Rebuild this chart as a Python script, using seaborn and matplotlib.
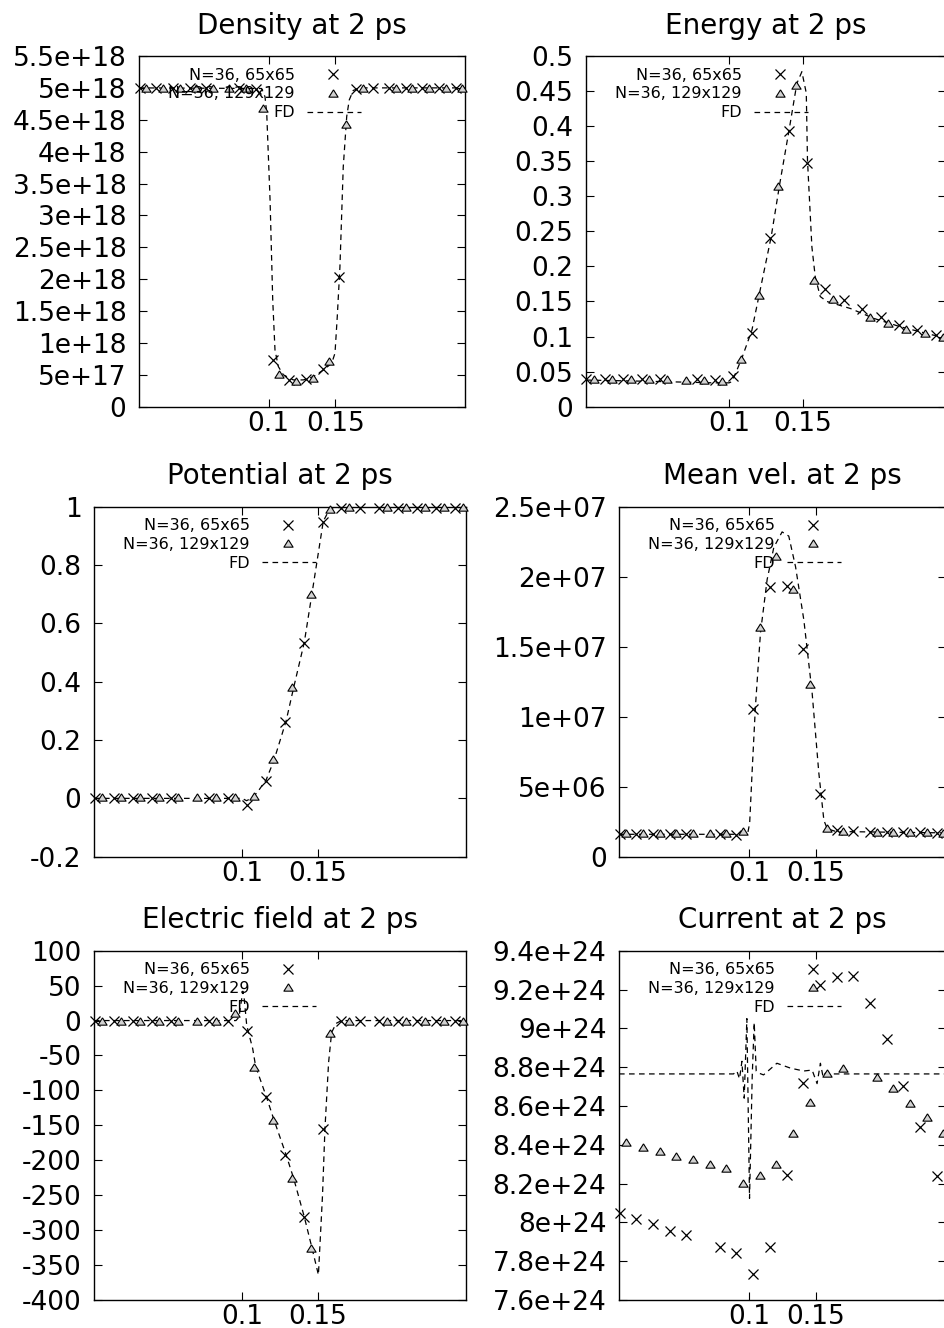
import matplotlib
matplotlib.use("Agg")
import matplotlib.pyplot as plt
import seaborn as sns

# ---------------------------------------------------------------------------
# Sample positions (um) of the two particle meshes
# ---------------------------------------------------------------------------
x_65 = [0.0030, 0.0155, 0.0280, 0.0405, 0.0530, 0.0780, 0.0905, 0.1030,
        0.1155, 0.1280, 0.1405, 0.1530, 0.1655, 0.1780, 0.1905, 0.2030,
        0.2155, 0.2280, 0.2405]
x_129 = [0.0080, 0.0205, 0.0330, 0.0455, 0.0580, 0.0705, 0.0830, 0.0955,
         0.1080, 0.1205, 0.1330, 0.1455, 0.1580, 0.1705, 0.1955, 0.2080,
         0.2205, 0.2330, 0.2455]

# ---------------------------------------------------------------------------
# Density
# ---------------------------------------------------------------------------
density_65 = [5.0e18, 5.0e18, 5.0e18, 5.0e18, 5.0e18, 5.0e18, 4.99e18, 7.4e17,
              4.2e17, 4.3e17, 5.9e17, 2.03e18, 4.99e18, 5.0e18, 5.0e18, 5.0e18,
              5.0e18, 5.0e18, 5.0e18]
density_129 = [5.0e18, 5.0e18, 5.0e18, 5.0e18, 5.0e18, 5.0e18, 5.0e18, 4.68e18,
               5.2e17, 4.1e17, 4.5e17, 7.2e17, 4.44e18, 5.0e18, 5.0e18, 5.0e18,
               5.0e18, 5.0e18, 5.0e18]
density_fd_x = [0.0025, 0.0947, 0.0972, 0.0985, 0.101, 0.103, 0.1047, 0.1072,
                0.111, 0.1185, 0.126, 0.1335, 0.141, 0.1473, 0.1498, 0.1515,
                0.1535, 0.156, 0.1586, 0.1605, 0.1635, 0.1686, 0.2475]
density_fd = [5.0e18, 4.99e18, 4.86e18, 4.6e18, 3.24e18, 1.67e18, 8.9e17, 6.3e17,
              5.0e17, 4.2e17, 4.2e17, 4.7e17, 5.75e17, 6.8e17, 8.4e17, 1.41e18,
              2.19e18, 3.76e18, 4.55e18, 4.81e18, 4.96e18, 5.0e18, 5.0e18]

# ---------------------------------------------------------------------------
# Energy
# ---------------------------------------------------------------------------
energy_65 = [0.040, 0.040, 0.040, 0.040, 0.039, 0.039, 0.038, 0.0438, 0.1055,
             0.241, 0.3935, 0.348, 0.1678, 0.152, 0.1388, 0.1274, 0.1165,
             0.1093, 0.1022]
energy_129 = [0.040, 0.040, 0.040, 0.039, 0.039, 0.038, 0.038, 0.037, 0.0675,
              0.159, 0.3147, 0.4587, 0.1806, 0.1535, 0.1274, 0.119, 0.1103,
              0.1046, 0.0998]
energy_fd_x = [0.0025, 0.05, 0.09, 0.1, 0.1019, 0.1053, 0.109, 0.1155, 0.1207,
               0.1286, 0.1343, 0.141, 0.1461, 0.1495, 0.1525, 0.1533, 0.1563,
               0.1586, 0.162, 0.1665, 0.1825, 0.1983, 0.2164, 0.239, 0.2475]
energy_fd = [0.038, 0.036, 0.034, 0.034, 0.0357, 0.052, 0.071, 0.109, 0.162,
             0.242, 0.316, 0.397, 0.461, 0.4776, 0.447, 0.352, 0.228, 0.185,
             0.157, 0.150, 0.140, 0.126, 0.114, 0.102, 0.0995]

# ---------------------------------------------------------------------------
# Potential
# ---------------------------------------------------------------------------
potential_65 = [0.0, 0.0, 0.0, 0.0, 0.0, 0.0, 0.0, -0.0226, 0.061, 0.263, 0.534,
                0.949, 0.997, 0.997, 0.997, 0.997, 0.997, 0.997, 0.997]
potential_129 = [0.005, 0.005, 0.005, 0.005, 0.005, 0.005, 0.005, 0.005, 0.008,
                 0.134, 0.381, 0.701, 0.991, 1.0, 1.0, 1.0, 1.0, 1.0, 1.0]
potential_fd_x = [0.0025, 0.097, 0.1, 0.103, 0.106, 0.11, 0.116, 0.121, 0.129,
                  0.134, 0.141, 0.146, 0.149, 0.1535, 0.157, 0.16, 0.2475]
potential_fd = [0.0, 0.0, 0.0, -0.008, 0.0, 0.02, 0.065, 0.13, 0.265, 0.38,
                0.535, 0.70, 0.80, 0.95, 0.985, 0.997, 1.0]

# ---------------------------------------------------------------------------
# Mean velocity
# ---------------------------------------------------------------------------
velocity_65 = [1.6e6, 1.6e6, 1.6e6, 1.6e6, 1.6e6, 1.6e6, 1.55e6, 1.053e7,
               1.929e7, 1.936e7, 1.484e7, 4.5e6, 1.9e6, 1.85e6, 1.8e6, 1.8e6,
               1.75e6, 1.75e6, 1.7e6]
velocity_129 = [1.7e6, 1.7e6, 1.7e6, 1.7e6, 1.7e6, 1.7e6, 1.7e6, 1.86e6,
                1.643e7, 2.148e7, 1.912e7, 1.231e7, 2.03e6, 1.85e6, 1.8e6,
                1.8e6, 1.75e6, 1.75e6, 1.7e6]
velocity_fd_x = [0.0025, 0.095, 0.099, 0.1004, 0.1022, 0.1047, 0.1085, 0.1135,
                 0.1185, 0.1247, 0.1297, 0.1348, 0.141, 0.1472, 0.1522, 0.156,
                 0.1585, 0.165, 0.2475]
velocity_fd = [1.6e6, 1.6e6, 1.7e6, 2.4e6, 6.0e6, 1.07e7, 1.6e7, 1.98e7, 2.21e7,
               2.32e7, 2.29e7, 2.07e7, 1.69e7, 1.17e7, 6.0e6, 2.6e6, 2.0e6,
               1.8e6, 1.7e6]

# ---------------------------------------------------------------------------
# Electric field
# ---------------------------------------------------------------------------
field_65 = [0, 0, 0, 0, 0, 0, 0, -14.6, -109, -192.5, -281, -155, 0, 0, 0, 0,
            0, 0, 0]
field_129 = [0, 0, 0, 0, 0, 0, 0, 11, -66, -142, -226, -325, -17.5, 0, 0, 0, 0,
             0, 0]
field_fd_x = [0.0025, 0.096, 0.098, 0.1005, 0.1015, 0.103, 0.104, 0.107, 0.109,
              0.116, 0.121, 0.129, 0.134, 0.141, 0.146, 0.1503, 0.153, 0.1546,
              0.157, 0.159, 0.162, 0.1655, 0.2475]
field_fd = [0, 0, 5, 42, 30, -5, -15, -40, -66, -109, -142, -192, -226, -281,
            -325, -364, -250, -155, -60, -17, -4, 0, 0]

# ---------------------------------------------------------------------------
# Current
# ---------------------------------------------------------------------------
current_65 = [8.047e24, 8.018e24, 7.99e24, 7.957e24, 7.935e24, 7.875e24,
              7.844e24, 7.732e24, 7.875e24, 8.244e24, 8.72e24, 9.224e24,
              9.263e24, 9.27e24, 9.13e24, 8.944e24, 8.705e24, 8.49e24, 8.24e24]
current_129 = [8.416e24, 8.39e24, 8.368e24, 8.344e24, 8.325e24, 8.30e24,
               8.279e24, 8.205e24, 8.244e24, 8.30e24, 8.459e24, 8.619e24,
               8.769e24, 8.794e24, 8.751e24, 8.691e24, 8.614e24, 8.545e24,
               8.462e24]
current_fd_x = [0.0025, 0.0883, 0.0908, 0.0928, 0.0946, 0.0963, 0.0983, 0.1003,
                0.1023, 0.1038, 0.1053, 0.107, 0.1108, 0.1208, 0.1309, 0.1409,
                0.1472, 0.1509, 0.1534, 0.1554, 0.1572, 0.1609, 0.2475]
current_fd = [8.765e24, 8.765e24, 8.78e24, 8.74e24, 8.83e24, 8.64e24, 9.05e24,
              8.124e24, 8.75e24, 9.03e24, 8.78e24, 8.77e24, 8.76e24, 8.82e24,
              8.795e24, 8.78e24, 8.785e24, 8.715e24, 8.82e24, 8.75e24, 8.77e24,
              8.765e24, 8.765e24]

# ---------------------------------------------------------------------------
# Axis ticks and labels
# ---------------------------------------------------------------------------
x_ticks = [0.1, 0.15]
x_tick_labels = ["0.1", "0.15"]
x_range = (0.0025, 0.2475)

density_ticks = [0, 5e17, 1e18, 1.5e18, 2e18, 2.5e18, 3e18, 3.5e18, 4e18,
                 4.5e18, 5e18, 5.5e18]
energy_ticks = [0, 0.05, 0.1, 0.15, 0.2, 0.25, 0.3, 0.35, 0.4, 0.45, 0.5]
potential_ticks = [-0.2, 0, 0.2, 0.4, 0.6, 0.8, 1]
velocity_ticks = [0, 5e6, 1e7, 1.5e7, 2e7, 2.5e7]
field_ticks = [-400, -350, -300, -250, -200, -150, -100, -50, 0, 50, 100]
current_ticks = [7.6e24, 7.8e24, 8e24, 8.2e24, 8.4e24, 8.6e24, 8.8e24, 9e24,
                 9.2e24, 9.4e24]

key_labels = ["N=36, 65x65", "N=36, 129x129", "FD"]

# ---------------------------------------------------------------------------
# Style
# ---------------------------------------------------------------------------
sns.set_theme(style="white")
plt.rcParams["font.family"] = ["DejaVu Sans"]
plt.rcParams.update({
    "axes.edgecolor": "black",
    "axes.linewidth": 1.0,
    "text.color": "black",
    "xtick.color": "black",
    "ytick.color": "black",
    "axes.labelcolor": "black",
    "figure.facecolor": "white",
    "axes.facecolor": "white",
})

W, H, DPI = 945, 1328, 100

CROSS = dict(marker="x", markersize=7.5, markeredgewidth=0.9,
             markeredgecolor="black", color="black", linestyle="none")
# flat, closed triangle outline
TRIANGLE = dict(marker=[(0, 0.8), (-1, -0.8), (1, -0.8), (0, 0.8)],
                markersize=6.6, markeredgewidth=0.8, markeredgecolor="black",
                markerfacecolor="#d2d2d2", color="black", linestyle="none")
FD_LINE = dict(color="black", linewidth=0.9, linestyle=(0, (4.5, 3.5)))

panels = [
    ("Density at 2 ps", (139, 56, 465, 406.7), (0, 5.5e18), density_ticks,
     density_65, density_129, density_fd_x, density_fd),
    ("Energy at 2 ps", (585.7, 56, 946, 406.7), (0, 0.5), energy_ticks,
     energy_65, energy_129, energy_fd_x, energy_fd),
    ("Potential at 2 ps", (94, 506.7, 466, 856.7), (-0.2, 1.0), potential_ticks,
     potential_65, potential_129, potential_fd_x, potential_fd),
    ("Mean vel. at 2 ps", (619, 506.7, 946, 856.7), (0, 2.5e7), velocity_ticks,
     velocity_65, velocity_129, velocity_fd_x, velocity_fd),
    ("Electric field at 2 ps", (94, 950.7, 466, 1300), (-400, 100), field_ticks,
     field_65, field_129, field_fd_x, field_fd),
    ("Current at 2 ps", (619, 950.7, 946, 1300), (7.6e24, 9.4e24), current_ticks,
     current_65, current_129, current_fd_x, current_fd),
]


def draw_key(ax, box):
    """gnuplot-style key: right-aligned text followed by the sample."""
    left, top, right, bottom = box
    w, h = right - left, bottom - top
    rows = [18.0, 36.7, 55.7]
    tx, mx = 156 / w, 194 / w
    lx = [168 / w, 222 / w]
    for i, (label, row) in enumerate(zip(key_labels, rows)):
        ax.text(tx, 1 - (row + 5.6) / h, label, transform=ax.transAxes,
                ha="right", va="baseline", fontsize=11.5, zorder=5)
        yc = 1 - row / h
        if i == 0:
            ax.plot([mx], [yc], transform=ax.transAxes, clip_on=False,
                    zorder=5, **CROSS)
        elif i == 1:
            ax.plot([mx], [yc], transform=ax.transAxes, clip_on=False,
                    zorder=5, **TRIANGLE)
        else:
            ax.plot(lx, [yc, yc], transform=ax.transAxes, clip_on=False,
                    zorder=5, **FD_LINE)


fig = plt.figure(figsize=(W / DPI, H / DPI), dpi=DPI)

for title, box, ylim, yticks, y65, y129, fdx, fdy in panels:
    left, top, right, bottom = box
    ax = fig.add_axes([left / W, 1 - bottom / H, (right - left) / W,
                       (bottom - top) / H])

    sns.lineplot(x=fdx, y=fdy, ax=ax, estimator=None, sort=False, zorder=2,
                 **FD_LINE)
    sns.lineplot(x=x_65, y=y65, ax=ax, estimator=None, sort=False,
                 clip_on=False, zorder=3, **CROSS)
    sns.lineplot(x=x_129, y=y129, ax=ax, estimator=None, sort=False,
                 clip_on=False, zorder=3, **TRIANGLE)

    ax.set_xlim(*x_range)
    ax.set_ylim(*ylim)
    ax.set_xticks(x_ticks)
    ax.set_xticklabels(x_tick_labels)
    ax.set_yticks(yticks)
    ax.set_yticklabels(["%g" % v for v in yticks])
    ax.set_xlabel("")
    ax.set_ylabel("")
    ax.grid(False)
    for sp in ax.spines.values():
        sp.set_visible(True)
        sp.set_linewidth(1.0)
        sp.set_color("black")

    ax.tick_params(axis="both", which="major", direction="in", length=5.8,
                   width=0.8, top=True, right=True, bottom=True, left=True,
                   labelsize=19)
    ax.tick_params(axis="y", pad=9)
    ax.tick_params(axis="x", pad=3.0)
    ax.set_title(title, fontsize=20, pad=16)

    draw_key(ax, box)

fig.savefig("out.png", dpi=DPI)
